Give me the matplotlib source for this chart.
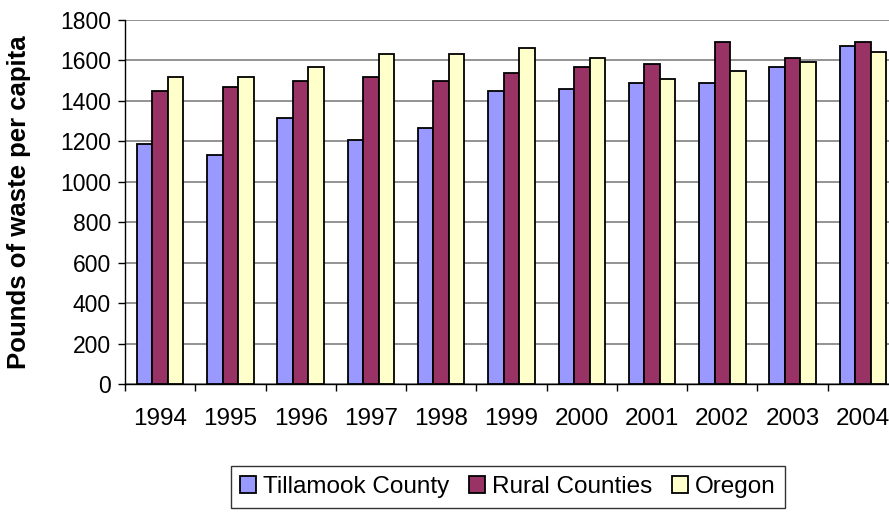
import matplotlib.pyplot as plt
import numpy as np

plt.rcParams['font.family'] = ['Liberation Sans', 'DejaVu Sans']

# Datos
years = ['1994', '1995', '1996', '1997', '1998', '1999', '2000', '2001', '2002', '2003', '2004']
tillamook = [1185, 1130, 1315, 1205, 1265, 1450, 1460, 1490, 1490, 1570, 1670]
rural = [1450, 1470, 1500, 1520, 1500, 1540, 1570, 1580, 1690, 1610, 1690]
oregon = [1520, 1520, 1570, 1630, 1630, 1660, 1610, 1510, 1550, 1590, 1640]

series = [('Tillamook County', tillamook, '#9999FF'),
          ('Rural Counties', rural, '#993366'),
          ('Oregon', oregon, '#FFFFCC')]

fig = plt.figure(figsize=(8.89, 5.12), dpi=100)
# el area de grafico se sale un poco por la derecha, como en el original
ax = fig.add_axes([125 / 889, 128 / 512, 773 / 889, 364 / 512])

x = np.arange(len(years))
w = 0.22
for i, (name, vals, color) in enumerate(series):
    ax.bar(x + (i - 1) * w, vals, width=w, color=color, edgecolor='black',
           linewidth=1.3, label=name, zorder=3)

# Configuracion de ejes
ax.set_xlim(-0.5, len(years) - 0.5)
ax.set_ylim(0, 1800)
ax.set_yticks(np.arange(0, 1801, 200))
ax.yaxis.grid(True, color='#808080', linewidth=1.2, zorder=0)
ax.set_axisbelow(True)

ax.set_xticks(x)
ax.set_xticklabels(years)
ax.set_xticks(np.arange(-0.5, len(years) - 0.4, 1), minor=True)
ax.tick_params(axis='x', which='major', length=0, pad=17, labelsize=17.5)
ax.tick_params(axis='x', which='minor', length=5, width=1, direction='out')
ax.tick_params(axis='y', length=5, width=1, direction='out', pad=5, labelsize=16.5)

for s in ['top', 'right']:
    ax.spines[s].set_visible(False)
ax.spines['left'].set_linewidth(1)
ax.spines['bottom'].set_linewidth(1)

ax.set_ylabel('Pounds of waste per capita', fontsize=18.5, fontweight='bold')
ax.yaxis.set_label_coords(-0.121, 0.5)

leg = fig.legend(loc='center', bbox_to_anchor=(508 / 889, 1 - 487 / 512), ncol=3,
                 fontsize=17.5, frameon=True, fancybox=False, edgecolor='black',
                 handlelength=0.65, handleheight=0.65, handletextpad=0.3,
                 columnspacing=0.8, borderpad=0.4, borderaxespad=0)
leg.get_frame().set_linewidth(1)

fig.savefig('out.png', dpi=100)
